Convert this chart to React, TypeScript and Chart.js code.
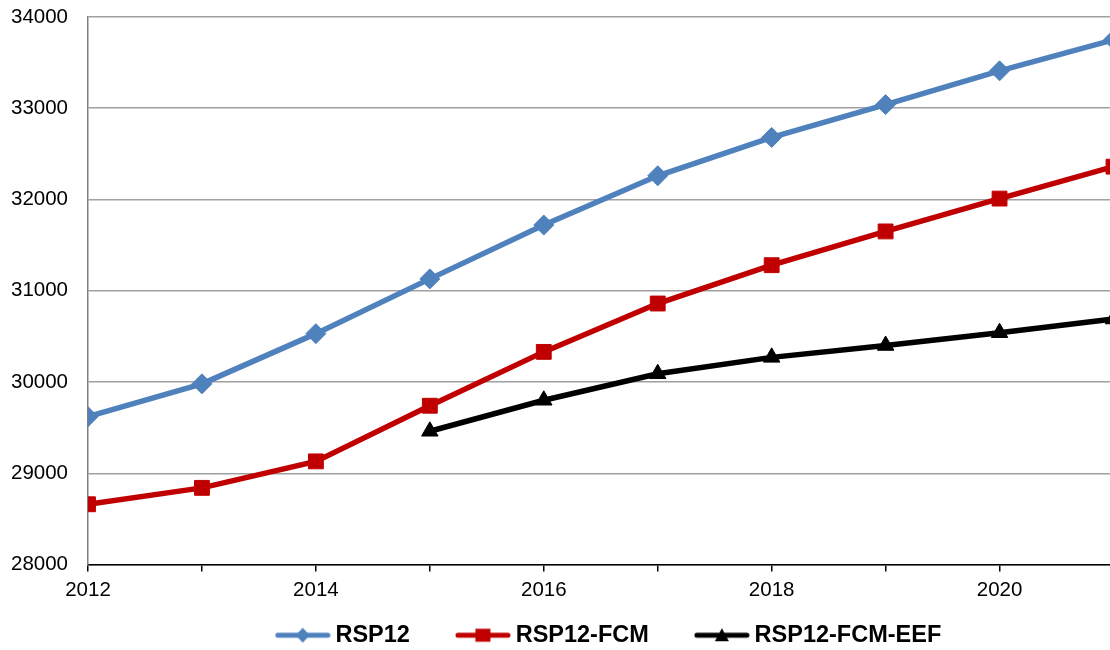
import React, { useEffect, useRef } from "react";
import { Chart, registerables } from "chart.js";

Chart.register(...registerables);

const years = [2012, 2013, 2014, 2015, 2016, 2017, 2018, 2019, 2020, 2021];
const rsp12 = [29620, 29980, 30530, 31130, 31720, 32260, 32680, 33040, 33410, 33750];
const rsp12Fcm = [28660, 28840, 29130, 29740, 30330, 30860, 31280, 31650, 32010, 32360];
const rsp12FcmEef = [null, null, null, 29460, 29800, 30090, 30270, 30400, 30540, 30690];
const seriesNames = ["RSP12", "RSP12-FCM", "RSP12-FCM-EEF"];
const seriesColors = ["#4F81BD", "#C00000", "#000000"];
const seriesMarkers = ["rectRot", "rect", "triangle"];
const yMin = 28000;
const yMax = 34000;
const yStep = 1000;

const FONT = "'Liberation Sans', Arial, sans-serif";

function legendIcon(color: string, marker: string): HTMLCanvasElement {
  const c = document.createElement("canvas");
  c.width = 56;
  c.height = 22;
  const ctx = c.getContext("2d")!;
  const cy = 11;
  const cx = 28;
  ctx.strokeStyle = color;
  ctx.lineWidth = 5;
  ctx.lineCap = "round";
  ctx.beginPath();
  ctx.moveTo(3, cy);
  ctx.lineTo(53, cy);
  ctx.stroke();
  ctx.fillStyle = color;
  ctx.beginPath();
  if (marker === "rectRot") {
    ctx.moveTo(cx - 7, cy);
    ctx.lineTo(cx, cy - 7.5);
    ctx.lineTo(cx + 7, cy);
    ctx.lineTo(cx, cy + 7.5);
  } else if (marker === "rect") {
    ctx.rect(cx - 7.5, cy - 6.5, 15, 13);
  } else {
    ctx.moveTo(cx - 7, cy + 6);
    ctx.lineTo(cx, cy - 7);
    ctx.lineTo(cx + 7, cy + 6);
  }
  ctx.closePath();
  ctx.fill();
  return c;
}

const legendShift = {
  id: "legendShift",
  afterLayout(chart: any) {
    const l = chart.legend;
    if (l) {
      l.left += 51;
      l.right += 51;
      l.top -= 28;
      l.bottom -= 28;
    }
  },
};

export default function App() {
  const ref = useRef<HTMLCanvasElement | null>(null);

  useEffect(() => {
    if (!ref.current) return;
    const seriesValues = [rsp12, rsp12Fcm, rsp12FcmEef];
    const radii = [10, 10.5, 9.5];
    const datasets = seriesNames.map((name, i) => ({
      label: name,
      data: years.map((yr, j) => ({ x: yr, y: seriesValues[i][j] })),
      borderColor: seriesColors[i],
      backgroundColor: seriesColors[i],
      borderWidth: 5.5,
      pointStyle: seriesMarkers[i] as any,
      pointRadius: radii[i],
      pointBorderWidth: 1,
      pointBackgroundColor: seriesColors[i],
      pointBorderColor: seriesColors[i],
      tension: 0,
      spanGaps: false,
      fill: false,
    }));
    const icons = seriesNames.map((_, i) => legendIcon(seriesColors[i], seriesMarkers[i]));

    const chart = new Chart(ref.current, {
      type: "line",
      data: { datasets: datasets as any },
      plugins: [legendShift],
      options: {
        animation: false,
        responsive: true,
        maintainAspectRatio: false,
        layout: { padding: { top: 17, right: 4, left: 0, bottom: -35 } },
        plugins: {
          tooltip: { enabled: false },
          legend: {
            position: "bottom",
            labels: {
              usePointStyle: true,
              pointStyleWidth: 42,
              padding: 52,
              color: "#000",
              font: { family: FONT, size: 23.5, weight: "bold" },
              generateLabels(chart: any) {
                const items = Chart.defaults.plugins.legend.labels.generateLabels(chart);
                return items.map((it: any, i: number) => ({ ...it, pointStyle: icons[i] }));
              },
            },
          },
        },
        scales: {
          x: {
            type: "linear",
            min: years[0],
            max: years[years.length - 1],
            afterBuildTicks(scale: any) {
              scale.ticks = years.map((v) => ({ value: v }));
            },
            afterFit(scale: any) {
              scale.height = 35;
              scale.paddingLeft = 0;
              scale.paddingRight = 0;
            },
            ticks: {
              autoSkip: false,
              maxRotation: 0,
              padding: 7,
              color: "#000",
              font: { family: FONT, size: 20.5 },
              callback: (v: any) => (Number(v) % 2 === 0 ? String(v) : ""),
            },
            grid: {
              drawOnChartArea: false,
              drawTicks: true,
              tickLength: 7,
              color: "#000",
              lineWidth: 1.5,
            },
            border: { display: true, color: "#000", width: 1.5 },
          },
          y: {
            min: yMin,
            max: yMax,
            afterFit(scale: any) {
              scale.width = 88;
              scale.paddingTop = 0;
              scale.paddingBottom = 0;
            },
            ticks: {
              stepSize: yStep,
              padding: 20,
              color: "#000",
              font: { family: FONT, size: 20.5 },
              callback: (v: any) => String(v),
            },
            grid: {
              drawTicks: false,
              color: "#a0a0a0",
              lineWidth: 1.5,
            },
            border: { display: true, color: "#808080", width: 1.5 },
          },
        },
      },
    });
    return () => chart.destroy();
  }, []);

  return (
    <div
      style={{
        position: "fixed",
        left: 0,
        top: 0,
        width: 1110,
        height: 650,
        overflow: "hidden",
        background: "#fff",
      }}
    >
      <div style={{ position: "relative", width: 1125, height: 650 }}>
        <canvas ref={ref} />
      </div>
    </div>
  );
}
